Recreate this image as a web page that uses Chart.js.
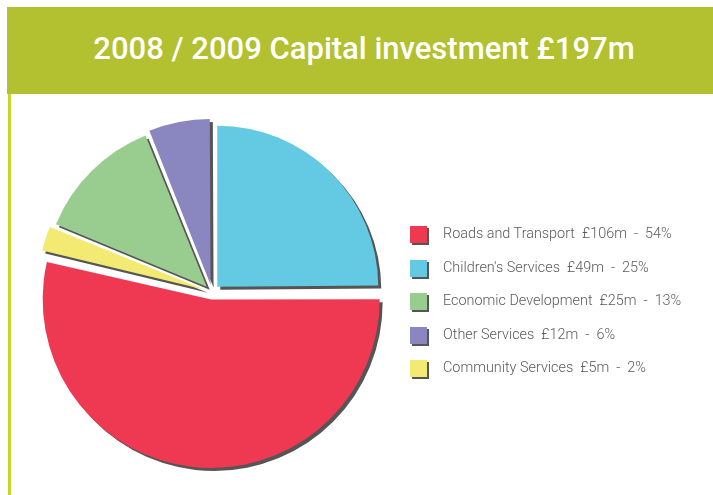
<!DOCTYPE html>
<html>
<head>
<meta charset="utf-8">
<script src="https://cdn.jsdelivr.net/npm/chart.js@4.4.0/dist/chart.umd.min.js"></script>
<style>
  html, body { margin: 0; padding: 0; background: #fff; }
  body { width: 713px; height: 495px; position: relative; overflow: hidden; font-family: Roboto, "Noto Sans", sans-serif; }
  #band { position: absolute; left: 7px; top: 7px; width: 706px; height: 87px; background: #b3c02f; }
  #title { position: absolute; left: 8px; right: 0; top: 24px; text-align: center; color: #fff; font-size: 31px; font-weight: 500; line-height: 36px; white-space: nowrap; }
  #rule { position: absolute; left: 8px; top: 94px; width: 3px; height: 401px; background: #c6d42f; }
  #pieBox { position: absolute; left: 2px; top: 95px; width: 420px; height: 394px; }
  #legend { position: absolute; left: 410px; top: 226px; margin: 0; padding: 0; list-style: none; }
  #legend li { height: 33.5px; position: relative; }
  #legend .box { position: absolute; left: 0; top: 0; width: 17px; height: 17px; box-shadow: 2px 2px 0 #555; }
  #legend .txt { position: absolute; left: 33px; top: -1px; font-size: 14.4px; line-height: 18px; color: #5a5a5a; white-space: pre; font-weight: 300; }
</style>
</head>
<body>
<div id="band"><div id="title">2008 / 2009 Capital investment £197m</div></div>
<div id="rule"></div>
<div id="pieBox"><canvas id="pie"></canvas></div>
<ul id="legend"></ul>
<script>
// slices clockwise from 12 o'clock
let labels = ['Children\'s Services', 'Roads and Transport', 'Community Services', 'Economic Development', 'Other Services'];
let values = [49, 106, 5, 25, 12];
let percents = ['25%', '54%', '2%', '13%', '6%'];
let colours = ['#64c9e3', '#ef3851', '#f2ea73', '#98cd8f', '#8a86c0'];

// flat grey drop shadow under every slice
const sliceShadow = {
    id: 'sliceShadow',
    beforeDatasetsDraw(chart) {
        const c = chart.ctx;
        c.save();
        c.shadowColor = '#555555';
        c.shadowBlur = 0;
        c.shadowOffsetX = 3;
        c.shadowOffsetY = 3;
    },
    afterDatasetsDraw(chart) {
        chart.ctx.restore();
    }
};

var ctx = document.getElementById('pie').getContext('2d');
var pie = new Chart(ctx, {
    type: 'pie',
    data: {
        labels: labels,
        datasets: [{
            data: values,
            backgroundColor: colours,
            borderWidth: 0,
            offset: 30,   // chart.js moves arcs by offset/4
            hoverOffset: 0
        }]
    },
    options: {
        responsive: true,
        maintainAspectRatio: false,
        animation: false,
        events: [],
        layout: { padding: 21 },
        plugins: {
            legend: { display: false },
            tooltip: { enabled: false }
        }
    },
    plugins: [sliceShadow]
});

// html legend, largest first
let order = values.map((v, i) => i).sort((a, b) => values[b] - values[a]);
let ul = document.getElementById('legend');
order.forEach(i => {
    let li = document.createElement('li');
    let box = document.createElement('span');
    box.className = 'box';
    box.style.background = colours[i];
    let txt = document.createElement('span');
    txt.className = 'txt';
    txt.textContent = labels[i] + '  £' + values[i] + 'm  -  ' + percents[i];
    li.appendChild(box);
    li.appendChild(txt);
    ul.appendChild(li);
});
</script>
</body>
</html>
